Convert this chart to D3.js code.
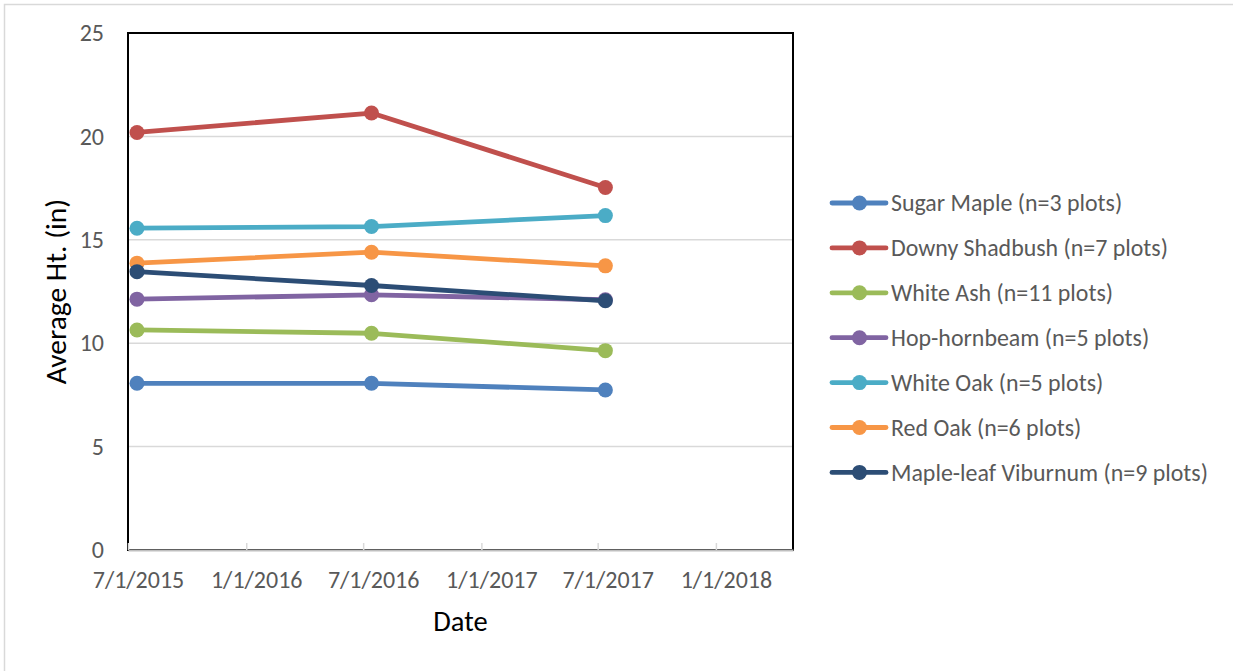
<!DOCTYPE html>
<html>
<head>
<meta charset="utf-8">
<script src="https://cdn.jsdelivr.net/npm/d3@7"></script>
<style>
  html, body { margin: 0; padding: 0; background: #fff; }
  svg { display: block; }
  text { font-family: Calibri, Carlito, Lato, "Open Sans", sans-serif; }
</style>
</head>
<body>
<svg id="chart" width="1233" height="671"></svg>
<script>
// ---- data ----
const dates = ["2015-07-15", "2016-07-14", "2017-07-13"];
const seriesNames = [
  "Sugar Maple (n=3 plots)",
  "Downy Shadbush (n=7 plots)",
  "White Ash (n=11 plots)",
  "Hop-hornbeam (n=5 plots)",
  "White Oak (n=5 plots)",
  "Red Oak (n=6 plots)",
  "Maple-leaf Viburnum (n=9 plots)"
];
const sugarMaple = [8.06, 8.06, 7.74];
const downyShadbush = [20.19, 21.13, 17.53];
const whiteAsh = [10.64, 10.48, 9.64];
const hopHornbeam = [12.13, 12.34, 12.10];
const whiteOak = [15.56, 15.64, 16.17];
const redOak = [13.87, 14.40, 13.74];
const mapleLeafViburnum = [13.46, 12.79, 12.05];
const seriesColors = ["#4F81BD", "#C0504D", "#9BBB59", "#8064A2", "#4BACC6", "#F79646", "#2C4D75"];
const yTicks = [0, 5, 10, 15, 20, 25];
const xTickDates = ["2015-07-01", "2016-01-01", "2016-07-01", "2017-01-01", "2017-07-01", "2018-01-01"];
const xDomain = ["2015-07-01", "2018-05-01"];
const yTitle = "Average Ht. (in)";
const xTitle = "Date";

// ---- layout ----
const plot = { left: 128, top: 33, right: 793, bottom: 550 };
const parse = d3.utcParse("%Y-%m-%d");
const fmt = d => `${d.getUTCMonth() + 1}/${d.getUTCDate()}/${d.getUTCFullYear()}`;

const values = [sugarMaple, downyShadbush, whiteAsh, hopHornbeam, whiteOak, redOak, mapleLeafViburnum];
const series = seriesNames.map((name, i) => ({
  name, color: seriesColors[i],
  points: dates.map((d, j) => ({ date: parse(d), value: values[i][j] }))
}));

const x = d3.scaleUtc().domain(xDomain.map(parse)).range([plot.left, plot.right]);
const y = d3.scaleLinear().domain([0, 25]).range([plot.bottom, plot.top]);

const svg = d3.select("#chart");

// outer chart border
svg.append("rect").attr("x", 4.5).attr("y", 4.5).attr("width", 1240).attr("height", 680)
  .attr("fill", "#fff").attr("stroke", "#d9d9d9").attr("stroke-width", 1.5);

// gridlines
svg.append("g").selectAll("line").data(yTicks.filter(t => t > 0 && t < 25)).join("line")
  .attr("x1", plot.left).attr("x2", plot.right)
  .attr("y1", d => y(d)).attr("y2", d => y(d))
  .attr("stroke", "#d9d9d9").attr("stroke-width", 1.5);

// plot border
svg.append("rect").attr("x", plot.left).attr("y", plot.top)
  .attr("width", plot.right - plot.left).attr("height", plot.bottom - plot.top)
  .attr("fill", "none").attr("stroke", "#000").attr("stroke-width", 2);

// x axis
const xAxis = d3.axisBottom(x).tickValues(xTickDates.map(parse)).tickFormat(fmt).tickSizeInner(-7).tickSizeOuter(0);
const gx = svg.append("g").attr("transform", `translate(0,${plot.bottom})`).call(xAxis);
gx.select(".domain").attr("stroke", "#bfbfbf").attr("stroke-width", 2);
gx.selectAll(".tick line").attr("stroke", "#d9d9d9").attr("stroke-width", 1.5);
gx.selectAll(".tick text").attr("fill", "#595959").attr("font-size", 24).attr("dx", 10).attr("y", 21).attr("dy", "0.71em");

// y axis
const yAxis = d3.axisLeft(y).tickValues(yTicks).tickSize(0).tickPadding(24);
const gy = svg.append("g").attr("transform", `translate(${plot.left},0)`).call(yAxis);
gy.select(".domain").remove();
gy.selectAll(".tick text").attr("fill", "#595959").attr("font-size", 24);

// axis titles
svg.append("text").text(yTitle)
  .attr("transform", `translate(66,${(plot.top + plot.bottom) / 2}) rotate(-90)`)
  .attr("text-anchor", "middle").attr("font-size", 29.5).attr("fill", "#000");
svg.append("text").text(xTitle)
  .attr("x", (plot.left + plot.right) / 2).attr("y", 631)
  .attr("text-anchor", "middle").attr("font-size", 28.5).attr("fill", "#000");

// lines
const line = d3.line().x(d => x(d.date)).y(d => y(d.value));
const gs = svg.append("g").selectAll("g").data(series).join("g");
gs.append("path").attr("d", d => line(d.points))
  .attr("fill", "none").attr("stroke", d => d.color).attr("stroke-width", 4.8)
  .attr("stroke-linejoin", "round").attr("stroke-linecap", "round");
gs.selectAll("circle").data(d => d.points.map(p => ({ ...p, color: d.color }))).join("circle")
  .attr("cx", d => x(d.date)).attr("cy", d => y(d.value)).attr("r", 7.5)
  .attr("fill", d => d.color);

// legend
const legend = svg.append("g").attr("transform", "translate(832,203)");
const li = legend.selectAll("g").data(series).join("g")
  .attr("transform", (d, i) => `translate(0,${i * 44.9})`);
li.append("line").attr("x1", 0).attr("x2", 54).attr("stroke", d => d.color).attr("stroke-width", 4.8)
  .attr("stroke-linecap", "round");
li.append("circle").attr("cx", 27.5).attr("r", 7.5).attr("fill", d => d.color);
li.append("text").text(d => d.name).attr("x", 59).attr("dy", "0.35em")
  .attr("font-size", 23.9).attr("fill", "#595959");
</script>
</body>
</html>
